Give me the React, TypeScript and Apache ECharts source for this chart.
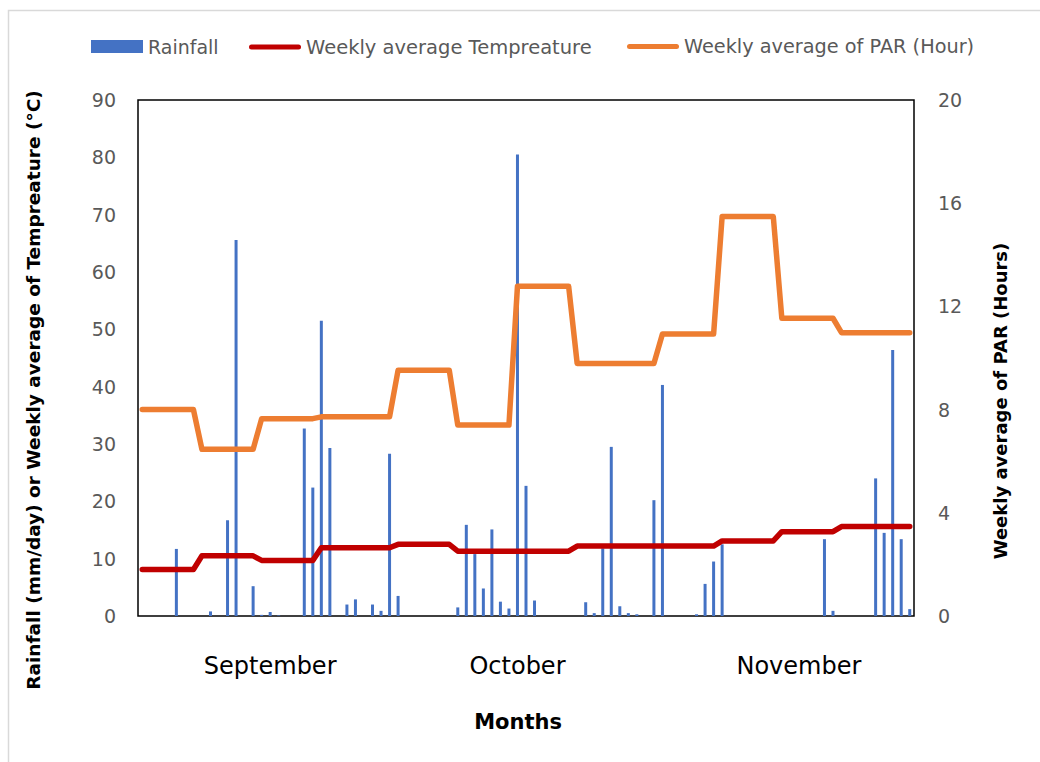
import React, { useEffect, useRef } from "react";
import * as echarts from "echarts";

// Months shown on the x axis and the number of days in each
const monthNames = ["September", "October", "November"];
const monthDays = [30, 31, 30];
// day index (0-based over the whole period) under which each month name sits
const monthLabelDayIndex = [15, 44, 77];

// Daily rainfall (mm/day), 1 Sep .. 30 Nov
const rainfall = [
  0, 0, 0, 0, 11.7, 0, 0, 0, 0.8, 0,
  16.7, 65.6, 0, 5.2, 0.2, 0.7, 0.1, 0, 0, 32.7,
  22.4, 51.5, 29.3, 0, 2.0, 2.9, 0, 2.0, 0.9, 28.3,
  3.5, 0, 0, 0, 0, 0, 0, 1.5, 15.9, 10.8,
  4.8, 15.1, 2.5, 1.3, 80.5, 22.7, 2.7, 0, 0, 0,
  0, 0, 2.4, 0.5, 11.8, 29.5, 1.7, 0.5, 0.3, 0,
  20.2, 40.3, 0, 0, 0, 0.3, 5.6, 9.5, 12.5, 0,
  0, 0, 0, 0, 0, 0, 0, 0, 0, 0,
  13.4, 0.9, 0, 0, 0, 0, 24.0, 14.5, 46.4, 13.4,
  1.2,
];

// Weekly average temperature (°C), given for every day
const temperature = [
  8.1, 8.1, 8.1, 8.1, 8.1, 8.1, 8.1, 10.5, 10.5, 10.5,
  10.5, 10.5, 10.5, 10.5, 9.7, 9.7, 9.7, 9.7, 9.7, 9.7,
  9.7, 11.9, 11.9, 11.9, 11.9, 11.9, 11.9, 11.9, 11.9, 11.9,
  12.5, 12.5, 12.5, 12.5, 12.5, 12.5, 12.5, 11.3, 11.3, 11.3,
  11.3, 11.3, 11.3, 11.3, 11.3, 11.3, 11.3, 11.3, 11.3, 11.3,
  11.3, 12.2, 12.2, 12.2, 12.2, 12.2, 12.2, 12.2, 12.2, 12.2,
  12.2, 12.2, 12.2, 12.2, 12.2, 12.2, 12.2, 12.2, 13.1, 13.1,
  13.1, 13.1, 13.1, 13.1, 13.1, 14.7, 14.7, 14.7, 14.7, 14.7,
  14.7, 14.7, 15.6, 15.6, 15.6, 15.6, 15.6, 15.6, 15.6, 15.6,
  15.6,
];

// Weekly average of PAR (hours), given for every day
const par = [
  8.0, 8.0, 8.0, 8.0, 8.0, 8.0, 8.0, 6.46, 6.46, 6.46,
  6.46, 6.46, 6.46, 6.46, 7.65, 7.65, 7.65, 7.65, 7.65, 7.65,
  7.65, 7.72, 7.72, 7.72, 7.72, 7.72, 7.72, 7.72, 7.72, 7.72,
  9.53, 9.53, 9.53, 9.53, 9.53, 9.53, 9.53, 7.4, 7.4, 7.4,
  7.4, 7.4, 7.4, 7.4, 12.78, 12.78, 12.78, 12.78, 12.78, 12.78,
  12.78, 9.79, 9.79, 9.79, 9.79, 9.79, 9.79, 9.79, 9.79, 9.79,
  9.79, 10.93, 10.93, 10.93, 10.93, 10.93, 10.93, 10.93, 15.48, 15.48,
  15.48, 15.48, 15.48, 15.48, 15.48, 11.54, 11.54, 11.54, 11.54, 11.54,
  11.54, 11.54, 10.98, 10.98, 10.98, 10.98, 10.98, 10.98, 10.98, 10.98,
  10.98,
];

const seriesNames = ["Rainfall", "Weekly average Tempreature", "Weekly average of PAR (Hour)"];
const seriesColors = ["#4472C4", "#C00000", "#ED7D31"];

const FONT = "DejaVu Sans";
const LINE_ICON = "path://M2.5,0 L49.5,0 A2.5,2.5 0 0 1 49.5,5 L2.5,5 A2.5,2.5 0 0 1 2.5,0 Z";
const legendLefts = [91, 249, 627];
const legendFontSizes = [19, 19.5, 19.3];

export default function App() {
  const ref = useRef<HTMLDivElement>(null);

  useEffect(() => {
    document.body.style.margin = "0";
    const chart = echarts.init(ref.current!, null, { renderer: "svg" });

    const days: string[] = [];
    monthNames.forEach((m, k) => {
      for (let d = 1; d <= monthDays[k]; d++) days.push(`${d} ${m.slice(0, 3)}`);
    });

    const legends = seriesNames.map((name, k) => ({
      left: legendLefts[k],
      top: 37,
      padding: 0,
      itemWidth: 52,
      itemHeight: 13,
      textStyle: { fontFamily: FONT, fontSize: legendFontSizes[k], color: "#595959" },
      data: [
        {
          name,
          icon: k === 0 ? "rect" : LINE_ICON,
          itemStyle: { color: seriesColors[k], borderWidth: 0 },
        },
      ],
    }));

    chart.setOption({
      animation: false,
      backgroundColor: "#ffffff",
      graphic: [
        {
          type: "rect",
          shape: { x: 8.5, y: 10.5, width: 1200, height: 1000 },
          style: { fill: "none", stroke: "#d9d9d9", lineWidth: 1.5 },
          silent: true,
        },
      ],
      legend: legends,
      grid: {
        left: 138,
        right: 126,
        top: 100,
        bottom: 146,
        show: true,
        borderColor: "#000000",
        borderWidth: 1.5,
        backgroundColor: "transparent",
      },
      xAxis: {
        type: "category",
        data: days,
        boundaryGap: true,
        name: "Months",
        nameLocation: "middle",
        nameGap: 95,
        nameTextStyle: {
          fontFamily: FONT,
          fontSize: 21,
          fontWeight: "bold",
          color: "#000000",
          padding: [0, 16, 0, 0],
        },
        axisLine: { show: false },
        axisTick: { show: false },
        splitLine: { show: false },
        axisLabel: {
          interval: (index: number) => monthLabelDayIndex.includes(index),
          formatter: (_v: string, index: number) => {
            const k = monthLabelDayIndex.indexOf(index);
            return k >= 0 ? monthNames[k] : "";
          },
          margin: 38,
          fontFamily: FONT,
          fontSize: 24,
          color: "#000000",
        },
      },
      yAxis: [
        {
          type: "value",
          min: 0,
          max: 90,
          interval: 10,
          name: "Rainfall (mm/day) or Weekly average of Tempreature (°C)",
          nameLocation: "middle",
          nameGap: 95,
          nameRotate: 90,
          nameTextStyle: {
            fontFamily: FONT,
            fontSize: 18.5,
            fontWeight: "bold",
            color: "#000000",
            padding: [0, 64, 0, 0],
          },
          axisLine: { show: false },
          axisTick: { show: false },
          splitLine: { show: false },
          axisLabel: { margin: 22, fontFamily: FONT, fontSize: 19, color: "#595959" },
        },
        {
          type: "value",
          min: 0,
          max: 20,
          interval: 4,
          position: "right",
          name: "Weekly average of PAR (Hours)",
          nameLocation: "middle",
          nameGap: 77,
          nameRotate: 90,
          nameTextStyle: {
            fontFamily: FONT,
            fontSize: 18,
            fontWeight: "bold",
            color: "#000000",
            padding: [0, 86, 0, 0],
          },
          axisLine: { show: false },
          axisTick: { show: false },
          splitLine: { show: false },
          axisLabel: { margin: 24, fontFamily: FONT, fontSize: 19, color: "#595959" },
        },
      ],
      series: [
        {
          name: seriesNames[0],
          type: "bar",
          data: rainfall,
          yAxisIndex: 0,
          barWidth: 3,
          itemStyle: { color: seriesColors[0] },
        },
        {
          name: seriesNames[1],
          type: "line",
          data: temperature,
          yAxisIndex: 0,
          symbol: "none",
          showSymbol: false,
          itemStyle: { color: seriesColors[1] },
          lineStyle: { color: seriesColors[1], width: 5.5, cap: "round", join: "round" },
        },
        {
          name: seriesNames[2],
          type: "line",
          data: par,
          yAxisIndex: 1,
          symbol: "none",
          showSymbol: false,
          itemStyle: { color: seriesColors[2] },
          lineStyle: { color: seriesColors[2], width: 5.5, cap: "round", join: "round" },
        },
      ],
    });

    return () => chart.dispose();
  }, []);

  return <div ref={ref} style={{ width: 1040, height: 762 }} />;
}
